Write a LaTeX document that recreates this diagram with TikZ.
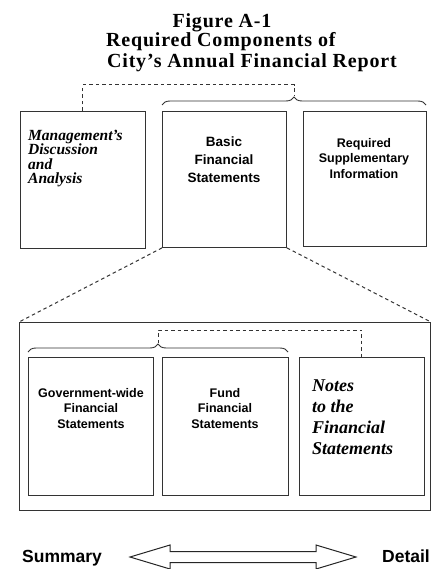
\documentclass[tikz,border=0pt]{standalone}
\usepackage{fontspec}
\setmainfont{Liberation Serif}
\setsansfont{Liberation Sans}
\newfontfamily\titlefont[LetterSpace=4,Ligatures=TeX]{Liberation Serif}
\usetikzlibrary{decorations.pathreplacing}
\tikzset{
  box/.style={draw=black!80, line width=0.9pt, anchor=north west, inner sep=0pt},
  dsh/.style={draw=black!80, line width=1pt, dash pattern=on 3.5pt off 3pt},
  brc/.style={draw=black!80, line width=0.9pt, decorate, decoration={brace, amplitude=8pt}},
  ttl/.style={font=\titlefont\bfseries\fontsize{20}{21}\selectfont, inner sep=0pt},
  sbig/.style={font=\sffamily\bfseries\fontsize{13.5}{18}\selectfont, align=center, inner sep=0pt, anchor=north},
  ssmall/.style={font=\sffamily\bfseries\fontsize{12.5}{15.5}\selectfont, align=center, inner sep=0pt, anchor=north},
  scr/.style={align=left, inner sep=0pt, anchor=north west},
  lbl/.style={font=\sffamily\bfseries\fontsize{17.5}{20}\selectfont, inner sep=0pt},
  blockarrow/.style={draw=black!85, line width=1pt, fill=white, line join=miter},
}
\begin{document}
\begin{tikzpicture}[x=1pt,y=-1pt]
\useasboundingbox (0,0) rectangle (437,569);
% title
\node[ttl, anchor=base] (t1) at (222,28) {Figure A-1};
\node[ttl, anchor=base west] (t2) at (106,47) {Required Components of};
\node[ttl, anchor=base west] (t3) at (107,68) {City’s Annual Financial Report};
% top boxes
\node[box, minimum width=125, minimum height=137] (mda) at (20,111) {};
\node[box, minimum width=124, minimum height=136] (bfs) at (162,111) {};
\node[box, minimum width=123, minimum height=135] (rsi) at (303,111) {};
\node[scr, font=\bfseries\itshape\fontsize{15.5}{14.5}\selectfont] (mdat) at (28,130) {Management’s\\Discussion\\and\\Analysis};
\node[sbig] (bfst) at (224,137) {Basic\\Financial\\Statements};
\node[ssmall] (rsit) at (364,138) {Required\\Supplementary\\Information};
% top brace and dashed link
\draw[brc] (162,105) -- (426,105);
\coordinate (btip) at (294,96);
\coordinate (dtop) at (294,85);
\draw[dsh] (mda.north) -- (mda.north |- dtop) -- (dtop) -- (btip);
% big box
\node[box, minimum width=411, minimum height=188] (big) at (19,322) {};
\draw[dsh] (bfs.south west) -- (big.north west);
\draw[dsh] (bfs.south east) -- (big.north east);
% inner boxes
\node[box, minimum width=125, minimum height=138] (gw) at (28,357) {};
\node[box, minimum width=126, minimum height=138] (fund) at (162,357) {};
\node[box, minimum width=125, minimum height=138] (notes) at (299,357) {};
\node[ssmall] (gwt) at (91,388) {Government-wide\\Financial\\Statements};
\node[ssmall] (fundt) at (225,388) {Fund\\Financial\\Statements};
\node[scr, font=\bfseries\itshape\fontsize{18}{21}\selectfont] (notest) at (312,380) {Notes\\to the\\Financial\\Statements};
% inner brace and dashed link
\draw[brc] (28,352) -- (288,352);
\coordinate (itip) at (158,343);
\coordinate (itop) at (158,330);
\draw[dsh] (itip) -- (itop) -- (notes.north |- itop) -- (notes.north);
% bottom arrow
\node[lbl, anchor=west] (sum) at (22,558) {Summary};
\node[lbl, anchor=east] (det) at (430,556) {Detail};
\coordinate (arr) at (243,557);
\draw[blockarrow] ([xshift=-113]arr) -- ([xshift=-73,yshift=-12]arr) -- ([xshift=-73,yshift=-5.5]arr)
  -- ([xshift=73,yshift=-5.5]arr) -- ([xshift=73,yshift=-12]arr) -- ([xshift=113]arr)
  -- ([xshift=73,yshift=12]arr) -- ([xshift=73,yshift=5.5]arr) -- ([xshift=-73,yshift=5.5]arr)
  -- ([xshift=-73,yshift=12]arr) -- cycle;
\end{tikzpicture}
\end{document}
